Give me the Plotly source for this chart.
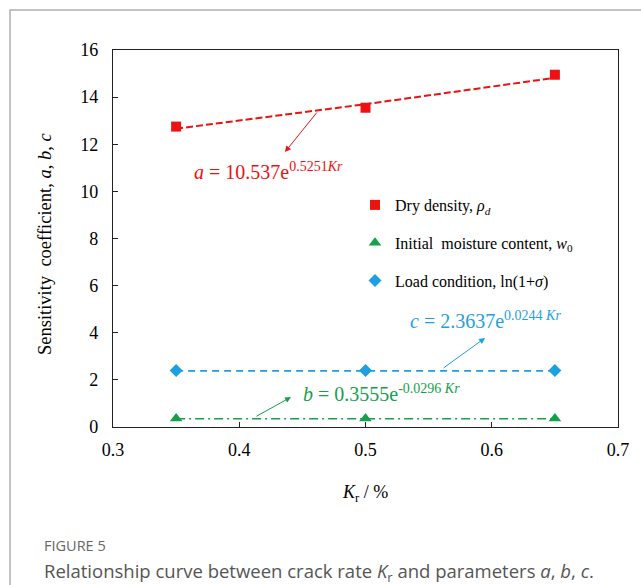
import plotly.graph_objects as go

# ---- data ----
kr = [0.35, 0.50, 0.65]
a_vals = [12.75, 13.55, 14.95]          # Dry density
b_vals = [0.36, 0.36, 0.36]             # Initial moisture content
c_vals = [2.40, 2.40, 2.40]             # Load condition
a_fit = [12.66, 13.70, 14.82]
b_fit = [0.35, 0.35, 0.35]
c_fit = [2.38, 2.38, 2.38]

x_ticks = [0.3, 0.4, 0.5, 0.6, 0.7]
y_ticks = [0, 2, 4, 6, 8, 10, 12, 14, 16]

RED = "#ee1111"
GREEN = "#16a04c"
BLUE = "#1ea0e0"
SERIF = "Liberation Serif"

W, H = 641, 585
L, R, T, B = 113, 23, 50, 158
PW, PH = W - L - R, H - T - B

def px(x):   # pixel x -> paper
    return (x - L) / PW

def py(y):   # pixel y -> paper
    return (H - B - y) / PH

fig = go.Figure()

# fit lines
fig.add_trace(go.Scatter(x=kr, y=a_fit, mode="lines", showlegend=False,
                         line=dict(color=RED, width=2, dash="7px,3px")))
fig.add_trace(go.Scatter(x=kr, y=c_fit, mode="lines", showlegend=False,
                         line=dict(color=BLUE, width=1.6, dash="7px,5px")))
fig.add_trace(go.Scatter(x=kr, y=b_fit, mode="lines", showlegend=False,
                         line=dict(color=GREEN, width=1.6, dash="9px,4px,2px,4px")))

# markers
fig.add_trace(go.Scatter(x=kr, y=a_vals, mode="markers", legendgroup="a",
                         name="Dry density, <i>ρ<sub>d</sub></i>",
                         marker=dict(symbol="square", size=10, color=RED)))
fig.add_trace(go.Scatter(x=kr, y=b_vals, mode="markers", legendgroup="b",
                         name="Initial  moisture content, <i>w</i><sub>0</sub>",
                         marker=dict(symbol="triangle-up", size=11, color=GREEN)))
fig.add_trace(go.Scatter(x=kr, y=c_vals, mode="markers", legendgroup="c",
                         name="Load condition, ln(1+<i>σ</i>)",
                         marker=dict(symbol="diamond", size=10, color=BLUE)))

ann = []
# equation labels
ann.append(dict(x=0.4228, y=10.87, xref="x", yref="y", showarrow=False,
                text="<i>a</i> = 10.537e<sup>0.5251<i>Kr</i></sup>",
                font=dict(family=SERIF, size=20, color=RED)))
ann.append(dict(x=0.5947, y=4.54, xref="x", yref="y", showarrow=False,
                text="<i>c</i> = 2.3637e<sup>0.0244 <i>Kr</i></sup>",
                font=dict(family=SERIF, size=20, color=BLUE)))
ann.append(dict(x=0.5123, y=1.44, xref="x", yref="y", showarrow=False,
                text="<i>b</i> = 0.3555e<sup>-0.0296 <i>Kr</i></sup>",
                font=dict(family=SERIF, size=20, color=GREEN)))
# arrows
for (hx, hy, tx, ty, col) in [(0.4362, 11.67, 0.4624, 13.41, RED),
                              (0.5947, 3.78, 0.5606, 2.46, BLUE),
                              (0.4410, 1.27, 0.4125, 0.42, GREEN)]:
    ann.append(dict(x=hx, y=hy, xref="x", yref="y", ax=tx, ay=ty,
                    axref="x", ayref="y", text="", showarrow=True,
                    arrowhead=2, arrowsize=1.2, arrowwidth=1, arrowcolor=col))

# axis titles
ann.append(dict(x=px(45), y=py(244), xref="paper", yref="paper", showarrow=False,
                xanchor="center", yanchor="middle", textangle=-90,
                text="Sensitivity  coefficient, <i>a</i>, <i>b</i>, <i>c</i>",
                font=dict(family=SERIF, size=18.5, color="black")))
ann.append(dict(x=px(365), y=py(493), xref="paper", yref="paper", showarrow=False,
                xanchor="center", yanchor="middle",
                text="<i>K</i><sub>r</sub> / %",
                font=dict(family=SERIF, size=18, color="black")))
# caption
ann.append(dict(x=px(42), y=py(545), xref="paper", yref="paper", showarrow=False,
                xanchor="left", yanchor="middle", text="FIGURE 5",
                font=dict(family="Open Sans", size=14.5, color="#666666")))
ann.append(dict(x=px(42), y=py(571.5), xref="paper", yref="paper", showarrow=False,
                xanchor="left", yanchor="middle",
                text="Relationship curve between crack rate <i>K</i><sub>r</sub> and parameters <i>a</i>, <i>b</i>, <i>c</i>.",
                font=dict(family="Open Sans", size=18.5, color="#555555")))

shapes = [dict(type="path", xref="paper", yref="paper",
               path=f"M {px(10)} {py(600)} L {px(10)} {py(10)} L {px(660)} {py(10)}",
               line=dict(color="#b0b0b0", width=1.5))]

fig.update_layout(
    width=W, height=H,
    margin=dict(l=L, r=R, t=T, b=B),
    paper_bgcolor="white", plot_bgcolor="white",
    font=dict(family=SERIF, size=18, color="black"),
    annotations=ann, shapes=shapes,
    showlegend=True,
    legend=dict(x=px(355), y=py(188), xanchor="left", yanchor="top",
                bgcolor="rgba(0,0,0,0)", tracegroupgap=14,
                font=dict(family=SERIF, size=16, color="black")),
)
fig.update_xaxes(range=[0.3, 0.7], tickvals=x_ticks, ticktext=[f"{v:.1f}" for v in x_ticks],
                 showgrid=False, zeroline=False, showline=True, mirror=True,
                 linecolor="#222222", linewidth=1.2, ticks="inside", ticklen=5,
                 tickcolor="#222222", tickfont=dict(family=SERIF, size=18),
                 ticklabelstandoff=6)
fig.update_yaxes(range=[0, 16], tickvals=y_ticks,
                 showgrid=False, zeroline=False, showline=True, mirror=True,
                 linecolor="#222222", linewidth=1.2, ticks="inside", ticklen=5,
                 tickcolor="#222222", tickfont=dict(family=SERIF, size=18),
                 ticklabelstandoff=10)

fig.write_html("out.html")
